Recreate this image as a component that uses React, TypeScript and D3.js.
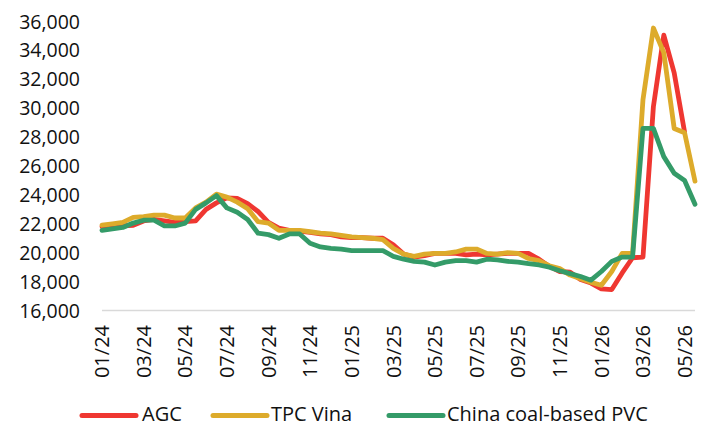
import React from "react";
import * as d3 from "d3";

// Semi-monthly observations, Jan 2024 .. May 2026 (index 0..57)
const tickLabels = ["01/24", "03/24", "05/24", "07/24", "09/24", "11/24", "01/25", "03/25", "05/25", "07/25", "09/25", "11/25", "01/26", "03/26", "05/26"];
const yTicks = [16000, 18000, 20000, 22000, 24000, 26000, 28000, 30000, 32000, 34000, 36000];

const agc: (number | null)[] = [
  21800, 21850, 21850, 21900, 22200, 22300, 22200, 22100, 22150, 22200,
  23000, 23450, 23800, 23750, 23400, 22850, 22100, 21700, 21550, 21500,
  21400, 21300, 21250, 21100, 21050, 21050, 21000, 21000, 20550, 19900,
  19700, 19800, 19950, 19950, 19950, 19850, 19900, 19850, 19900, 19950,
  19950, 19950, 19550, 19050, 18700, 18650, 18150, 17900, 17500, 17450,
  18600, 19650, 19700, 30100, 35050, 32450, 28350, null,
];
const tpcVina: (number | null)[] = [
  21900, 22000, 22100, 22450, 22500, 22600, 22600, 22400, 22400, 23100,
  23500, 24050, 23850, 23500, 23050, 22150, 22050, 21550, 21550, 21550,
  21450, 21350, 21300, 21200, 21100, 21050, 21000, 20900, 20300, 19900,
  19750, 19900, 19950, 19950, 20050, 20250, 20250, 19950, 19900, 20000,
  19950, 19600, 19450, 19100, 18900, 18450, 18200, 17950, 17750, 18700,
  19950, 19950, 30600, 35550, 33850, 28600, 28300, 24950,
];
const chinaPvc: (number | null)[] = [
  21550, 21650, 21750, 22050, 22250, 22250, 21850, 21850, 22050, 23000,
  23450, 23950, 23100, 22800, 22300, 21350, 21250, 21000, 21300, 21300,
  20650, 20400, 20300, 20250, 20150, 20150, 20150, 20150, 19750, 19550,
  19400, 19350, 19150, 19350, 19450, 19450, 19350, 19550, 19500, 19400,
  19350, 19250, 19150, 19000, 18750, 18550, 18350, 18100, 18700, 19400,
  19700, 19700, 28600, 28600, 26650, 25500, 25000, 23350,
];

const seriesNames = ["AGC", "TPC Vina", "China coal-based PVC"];
const seriesData = [agc, tpcVina, chinaPvc];
const colors = ["#ef3731", "#ddab2b", "#349b68"];

const W = 709;
const H = 427;
const FONT = "'Open Sans', 'Liberation Sans', sans-serif";

export default function App() {
  const n = tpcVina.length;
  const x = d3.scaleLinear().domain([0, n - 1]).range([102, 695]);
  const y = d3.scaleLinear().domain([16000, 36000]).range([310.5, 21.5]);
  const line = d3
    .line<number | null>()
    .defined((d) => d != null)
    .x((_, i) => x(i))
    .y((d) => y(d as number));
  const fmt = d3.format(",");

  const legendPos = [
    { lx: 82, tx: 142 },
    { lx: 213, tx: 271 },
    { lx: 389, tx: 447 },
  ];

  return (
    <svg
      width={W}
      height={H}
      style={{ position: "fixed", left: 0, top: 0, background: "#fff" }}
      fontFamily={FONT}
    >
      {/* y axis labels */}
      {yTicks.map((t) => (
        <text key={t} x={80} y={y(t)} dy="0.36em" textAnchor="end" fontSize={19.5} fill="#111">
          {fmt(t)}
        </text>
      ))}
      {/* baseline */}
      <line x1={x(0)} x2={x(n - 1)} y1={y(16000)} y2={y(16000)} stroke="#d9d9d9" strokeWidth={1.5} />
      {/* x labels */}
      {tickLabels.map((lab, k) => {
        const xi = x(k * 4);
        return (
          <text
            key={lab}
            transform={`translate(${xi},325) rotate(-90)`}
            dy="0.36em"
            textAnchor="end"
            fontSize={20}
            fill="#111"
          >
            {lab}
          </text>
        );
      })}
      {/* lines */}
      {seriesData.map((s, si) => (
        <path
          key={seriesNames[si]}
          d={line(s) || ""}
          fill="none"
          stroke={colors[si]}
          strokeWidth={4.8}
          strokeLinejoin="round"
          strokeLinecap="round"
        />
      ))}
      {/* legend */}
      {seriesNames.map((nm, si) => (
        <g key={nm}>
          <line
            x1={legendPos[si].lx}
            x2={legendPos[si].lx + 54}
            y1={415.5}
            y2={415.5}
            stroke={colors[si]}
            strokeWidth={5}
            strokeLinecap="round"
          />
          <text x={legendPos[si].tx} y={413.5} dy="0.36em" fontSize={20} fill="#111">
            {nm}
          </text>
        </g>
      ))}
    </svg>
  );
}
